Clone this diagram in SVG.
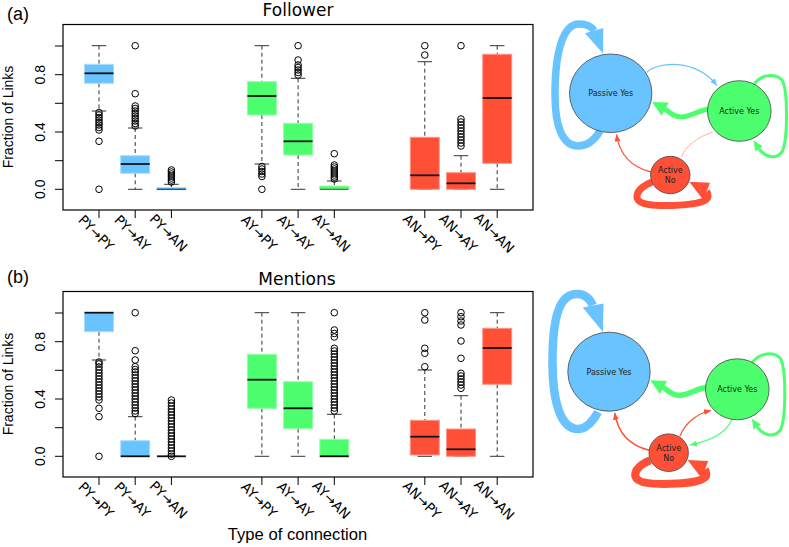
<svg xmlns="http://www.w3.org/2000/svg" width="789" height="547" viewBox="0 0 789 547">
<style>
.bb{fill:#69C3FF;stroke:#A8DCFF;stroke-width:1}
.bg{fill:#4DFF6E;stroke:#94FFA6;stroke-width:1}
.br{fill:#FF5037;stroke:#FF9585;stroke-width:1}
.med{stroke:#111;stroke-width:1.8}
.wh{stroke:#333;stroke-width:1;stroke-dasharray:4 3}
.cap{stroke:#333;stroke-width:1}
.o{fill:none;stroke:#000;stroke-width:1}
.ax{stroke:#000;stroke-width:1}
.frame{fill:none;stroke:#000;stroke-width:1.2}
.t{font-family:"Liberation Sans",Arial,sans-serif;fill:#000}
.dv{font-family:"DejaVu Sans",sans-serif;fill:#000}
.xl{font-family:"DejaVu Sans",sans-serif;font-size:13.5px;text-anchor:middle}
.yl{font-family:"Liberation Sans",Arial,sans-serif;font-size:14px;text-anchor:middle}
.nl{font-family:"DejaVu Sans",sans-serif;font-size:8px;text-anchor:middle;fill:#222}
.nPY{fill:#69C3FF;stroke:#444;stroke-width:0.8}
.nAY{fill:#4DFF6E;stroke:#444;stroke-width:0.8}
.nAN{fill:#FF5037;stroke:#444;stroke-width:0.8}
.eB{fill:none;stroke:#69C3FF}
.eG{fill:none;stroke:#4DFF6E}
.eR{fill:none;stroke:#FF5037}
.hB{fill:#69C3FF}
.hG{fill:#4DFF6E}
.hR{fill:#FF5037}
</style>
<defs>
<marker id="aB" markerUnits="userSpaceOnUse" markerWidth="7" markerHeight="6" refX="7" refY="3" orient="auto"><path d="M0,0 L7,3 L0,6 z" fill="#69C3FF"/></marker>
<marker id="aG" markerUnits="userSpaceOnUse" markerWidth="7" markerHeight="6" refX="7" refY="3" orient="auto"><path d="M0,0 L7,3 L0,6 z" fill="#4DFF6E"/></marker>
<marker id="aR" markerUnits="userSpaceOnUse" markerWidth="7" markerHeight="6" refX="7" refY="3" orient="auto"><path d="M0,0 L7,3 L0,6 z" fill="#FF5037"/></marker>
</defs>
<rect width="789" height="547" fill="#fff"/>

<!-- ===== Plot (a) Follower ===== -->
<g id="plot-a">
<text class="t" x="7" y="20" font-size="18">(a)</text>
<text class="dv" x="298" y="15.7" font-size="17" text-anchor="middle">Follower</text>
<text class="t" font-size="14" text-anchor="middle" transform="translate(13,117) rotate(-90)">Fraction of Links</text>
<g class="ax">
<line x1="55" y1="189.3" x2="63" y2="189.3"/><line x1="55" y1="160.7" x2="63" y2="160.7"/><line x1="55" y1="132" x2="63" y2="132"/><line x1="55" y1="103.3" x2="63" y2="103.3"/><line x1="55" y1="74.7" x2="63" y2="74.7"/><line x1="55" y1="46" x2="63" y2="46"/>
<line x1="99" y1="210" x2="99" y2="218"/><line x1="135.2" y1="210" x2="135.2" y2="218"/><line x1="171.4" y1="210" x2="171.4" y2="218"/><line x1="261.9" y1="210" x2="261.9" y2="218"/><line x1="298.1" y1="210" x2="298.1" y2="218"/><line x1="334.3" y1="210" x2="334.3" y2="218"/><line x1="424.8" y1="210" x2="424.8" y2="218"/><line x1="461" y1="210" x2="461" y2="218"/><line x1="497.2" y1="210" x2="497.2" y2="218"/>
</g>
<text class="yl" transform="translate(44.5,189.3) rotate(-90)">0.0</text>
<text class="yl" transform="translate(44.5,132) rotate(-90)">0.4</text>
<text class="yl" transform="translate(44.5,74.7) rotate(-90)">0.8</text>
<g class="xl">
<text transform="translate(96,233) rotate(45)" y="4.5">PY→PY</text>
<text transform="translate(132.2,233) rotate(45)" y="4.5">PY→AY</text>
<text transform="translate(168.4,233) rotate(45)" y="4.5">PY→AN</text>
<text transform="translate(258.9,233) rotate(45)" y="4.5">AY→PY</text>
<text transform="translate(295.1,233) rotate(45)" y="4.5">AY→AY</text>
<text transform="translate(331.3,233) rotate(45)" y="4.5">AY→AN</text>
<text transform="translate(421.8,233) rotate(45)" y="4.5">AN→PY</text>
<text transform="translate(458,233) rotate(45)" y="4.5">AN→AY</text>
<text transform="translate(494.2,233) rotate(45)" y="4.5">AN→AN</text>
</g>
<!-- PY->PY -->
<g>
<line class="wh" x1="99" y1="45.7" x2="99" y2="64.3"/><line class="wh" x1="99" y1="83.3" x2="99" y2="111"/>
<line class="cap" x1="91.75" y1="45.7" x2="106.25" y2="45.7"/><line class="cap" x1="91.75" y1="111" x2="106.25" y2="111"/>
<rect class="bb" x="84.5" y="64.3" width="29" height="19"/><line class="med" x1="84.5" y1="73.3" x2="113.5" y2="73.3"/>
<g class="o"><circle cx="99" cy="189.3" r="3.3"/><circle cx="99" cy="141.3" r="3.3"/><circle cx="99" cy="130" r="3.3"/><circle cx="99" cy="127.5" r="3.3"/><circle cx="99" cy="125" r="3.3"/><circle cx="99" cy="122.5" r="3.3"/><circle cx="99" cy="120" r="3.3"/><circle cx="99" cy="117.5" r="3.3"/><circle cx="99" cy="115" r="3.3"/><circle cx="99" cy="112.5" r="3.3"/></g>
</g>
<!-- PY->AY -->
<g>
<line class="wh" x1="135.2" y1="128" x2="135.2" y2="155.7"/><line class="wh" x1="135.2" y1="173.3" x2="135.2" y2="189.3"/>
<line class="cap" x1="127.95" y1="128" x2="142.45" y2="128"/><line class="cap" x1="127.95" y1="189.3" x2="142.45" y2="189.3"/>
<rect class="bb" x="120.7" y="155.7" width="29" height="17.6"/><line class="med" x1="120.7" y1="164" x2="149.7" y2="164"/>
<g class="o"><circle cx="135.2" cy="45.7" r="3.3"/><circle cx="135.2" cy="93.7" r="3.3"/><circle cx="135.2" cy="106" r="3.3"/><circle cx="135.2" cy="108.5" r="3.3"/><circle cx="135.2" cy="111" r="3.3"/><circle cx="135.2" cy="113.5" r="3.3"/><circle cx="135.2" cy="116" r="3.3"/><circle cx="135.2" cy="118.5" r="3.3"/><circle cx="135.2" cy="121" r="3.3"/><circle cx="135.2" cy="123.5" r="3.3"/><circle cx="135.2" cy="126" r="3.3"/></g>
</g>
<!-- PY->AN -->
<g>
<line class="wh" x1="171.4" y1="184.3" x2="171.4" y2="187.7"/>
<line class="cap" x1="164.15" y1="184.3" x2="178.65" y2="184.3"/><line class="cap" x1="164.15" y1="189.3" x2="178.65" y2="189.3"/>
<rect class="bb" x="156.9" y="187.7" width="29" height="1.6"/><line x1="156.9" y1="189.3" x2="185.9" y2="189.3" stroke="#1a5a9a" stroke-width="1.5"/>
<g class="o"><circle cx="171.4" cy="170" r="3.3"/><circle cx="171.4" cy="172" r="3.3"/><circle cx="171.4" cy="174" r="3.3"/><circle cx="171.4" cy="176" r="3.3"/><circle cx="171.4" cy="178" r="3.3"/><circle cx="171.4" cy="180" r="3.3"/><circle cx="171.4" cy="182" r="3.3"/></g>
</g>
<!-- AY->PY -->
<g>
<line class="wh" x1="261.9" y1="45.7" x2="261.9" y2="81.7"/><line class="wh" x1="261.9" y1="115" x2="261.9" y2="164"/>
<line class="cap" x1="254.65" y1="45.7" x2="269.15" y2="45.7"/><line class="cap" x1="254.65" y1="164" x2="269.15" y2="164"/>
<rect class="bg" x="247.4" y="81.7" width="29" height="33.3"/><line class="med" x1="247.4" y1="96" x2="276.4" y2="96"/>
<g class="o"><circle cx="261.9" cy="189.3" r="3.3"/><circle cx="261.9" cy="176.5" r="3.3"/><circle cx="261.9" cy="174" r="3.3"/><circle cx="261.9" cy="171.5" r="3.3"/><circle cx="261.9" cy="169" r="3.3"/><circle cx="261.9" cy="166.5" r="3.3"/></g>
</g>
<!-- AY->AY -->
<g>
<line class="wh" x1="298.1" y1="78.3" x2="298.1" y2="123.3"/><line class="wh" x1="298.1" y1="155" x2="298.1" y2="189.3"/>
<line class="cap" x1="290.85" y1="78.3" x2="305.35" y2="78.3"/><line class="cap" x1="290.85" y1="189.3" x2="305.35" y2="189.3"/>
<rect class="bg" x="283.6" y="123.3" width="29" height="31.7"/><line class="med" x1="283.6" y1="141.3" x2="312.6" y2="141.3"/>
<g class="o"><circle cx="298.1" cy="45.7" r="3.3"/><circle cx="298.1" cy="60" r="3.3"/><circle cx="298.1" cy="65" r="3.3"/><circle cx="298.1" cy="67.5" r="3.3"/><circle cx="298.1" cy="70" r="3.3"/><circle cx="298.1" cy="72.5" r="3.3"/><circle cx="298.1" cy="75" r="3.3"/></g>
</g>
<!-- AY->AN -->
<g>
<line class="wh" x1="334.3" y1="181" x2="334.3" y2="186"/>
<line class="cap" x1="327.05" y1="181" x2="341.55" y2="181"/><line class="cap" x1="327.05" y1="189.3" x2="341.55" y2="189.3"/>
<rect class="bg" x="319.8" y="186" width="29" height="3.3"/><line x1="319.8" y1="189.3" x2="348.8" y2="189.3" stroke="#1f8a35" stroke-width="1.2"/>
<g class="o"><circle cx="334.3" cy="153.7" r="3.3"/><circle cx="334.3" cy="165" r="3.3"/><circle cx="334.3" cy="167" r="3.3"/><circle cx="334.3" cy="169" r="3.3"/><circle cx="334.3" cy="171" r="3.3"/><circle cx="334.3" cy="173" r="3.3"/><circle cx="334.3" cy="175" r="3.3"/><circle cx="334.3" cy="177" r="3.3"/><circle cx="334.3" cy="179" r="3.3"/></g>
</g>
<!-- AN->PY -->
<g>
<line class="wh" x1="424.8" y1="61.7" x2="424.8" y2="137.3"/>
<line class="cap" x1="417.55" y1="61.7" x2="432.05" y2="61.7"/><line class="cap" x1="417.55" y1="189.3" x2="432.05" y2="189.3"/>
<rect class="br" x="410.3" y="137.3" width="29" height="52"/><line class="med" x1="410.3" y1="175.3" x2="439.3" y2="175.3"/>
<g class="o"><circle cx="424.8" cy="45.7" r="3.3"/><circle cx="424.8" cy="55" r="3.3"/></g>
</g>
<!-- AN->AY -->
<g>
<line class="wh" x1="461" y1="155.7" x2="461" y2="172.7"/>
<line class="cap" x1="453.75" y1="155.7" x2="468.25" y2="155.7"/><line class="cap" x1="453.75" y1="189.3" x2="468.25" y2="189.3"/>
<rect class="br" x="446.5" y="172.7" width="29" height="16.6"/><line class="med" x1="446.5" y1="183.3" x2="475.5" y2="183.3"/>
<g class="o"><circle cx="461" cy="45.7" r="3.3"/><circle cx="461" cy="119" r="3.3"/><circle cx="461" cy="122" r="3.3"/><circle cx="461" cy="125" r="3.3"/><circle cx="461" cy="128" r="3.3"/><circle cx="461" cy="131" r="3.3"/><circle cx="461" cy="134" r="3.3"/><circle cx="461" cy="137" r="3.3"/><circle cx="461" cy="140" r="3.3"/><circle cx="461" cy="143" r="3.3"/><circle cx="461" cy="146" r="3.3"/></g>
</g>
<!-- AN->AN -->
<g>
<line class="wh" x1="497.2" y1="45.7" x2="497.2" y2="54.3"/><line class="wh" x1="497.2" y1="163.3" x2="497.2" y2="189.3"/>
<line class="cap" x1="489.95" y1="45.7" x2="504.45" y2="45.7"/><line class="cap" x1="489.95" y1="189.3" x2="504.45" y2="189.3"/>
<rect class="br" x="482.7" y="54.3" width="29" height="109"/><line class="med" x1="482.7" y1="98" x2="511.7" y2="98"/>
</g>
<rect class="frame" x="63" y="24.5" width="470" height="185.5"/>
</g>

<!-- ===== Plot (b) Mentions ===== -->
<g id="plot-b">
<text class="t" x="7" y="282.7" font-size="18">(b)</text>
<text class="dv" x="297" y="285" font-size="17" text-anchor="middle">Mentions</text>
<text class="t" font-size="14" text-anchor="middle" transform="translate(13,384) rotate(-90)">Fraction of Links</text>
<text class="t" x="297.5" y="540" font-size="16.6" text-anchor="middle">Type of connection</text>
<g class="ax">
<line x1="55" y1="456.3" x2="63" y2="456.3"/><line x1="55" y1="427.7" x2="63" y2="427.7"/><line x1="55" y1="399" x2="63" y2="399"/><line x1="55" y1="370.3" x2="63" y2="370.3"/><line x1="55" y1="341.7" x2="63" y2="341.7"/><line x1="55" y1="313" x2="63" y2="313"/>
<line x1="99" y1="477" x2="99" y2="485"/><line x1="135.2" y1="477" x2="135.2" y2="485"/><line x1="171.4" y1="477" x2="171.4" y2="485"/><line x1="261.9" y1="477" x2="261.9" y2="485"/><line x1="298.1" y1="477" x2="298.1" y2="485"/><line x1="334.3" y1="477" x2="334.3" y2="485"/><line x1="424.8" y1="477" x2="424.8" y2="485"/><line x1="461" y1="477" x2="461" y2="485"/><line x1="497.2" y1="477" x2="497.2" y2="485"/>
</g>
<text class="yl" transform="translate(44.5,456.3) rotate(-90)">0.0</text>
<text class="yl" transform="translate(44.5,399) rotate(-90)">0.4</text>
<text class="yl" transform="translate(44.5,341.7) rotate(-90)">0.8</text>
<g class="xl">
<text transform="translate(96,500) rotate(45)" y="4.5">PY→PY</text>
<text transform="translate(132.2,500) rotate(45)" y="4.5">PY→AY</text>
<text transform="translate(168.4,500) rotate(45)" y="4.5">PY→AN</text>
<text transform="translate(258.9,500) rotate(45)" y="4.5">AY→PY</text>
<text transform="translate(295.1,500) rotate(45)" y="4.5">AY→AY</text>
<text transform="translate(331.3,500) rotate(45)" y="4.5">AY→AN</text>
<text transform="translate(421.8,500) rotate(45)" y="4.5">AN→PY</text>
<text transform="translate(458,500) rotate(45)" y="4.5">AN→AY</text>
<text transform="translate(494.2,500) rotate(45)" y="4.5">AN→AN</text>
</g>
<!-- PY->PY -->
<g>
<line class="wh" x1="99" y1="331.7" x2="99" y2="360"/>
<line class="cap" x1="91.75" y1="360" x2="106.25" y2="360"/>
<rect class="bb" x="84.5" y="312.7" width="29" height="19"/><line class="med" x1="84.5" y1="312.7" x2="113.5" y2="312.7"/>
<g class="o"><circle cx="99" cy="456.3" r="3.3"/><circle cx="99" cy="416.7" r="3.3"/><circle cx="99" cy="408.3" r="3.3"/><circle cx="99" cy="400" r="3.3"/><circle cx="99" cy="397" r="3.3"/><circle cx="99" cy="394" r="3.3"/><circle cx="99" cy="391" r="3.3"/><circle cx="99" cy="388" r="3.3"/><circle cx="99" cy="385" r="3.3"/><circle cx="99" cy="382" r="3.3"/><circle cx="99" cy="379" r="3.3"/><circle cx="99" cy="376" r="3.3"/><circle cx="99" cy="373" r="3.3"/><circle cx="99" cy="370" r="3.3"/><circle cx="99" cy="367" r="3.3"/><circle cx="99" cy="364" r="3.3"/><circle cx="99" cy="362" r="3.3"/></g>
</g>
<!-- PY->AY -->
<g>
<line class="wh" x1="135.2" y1="416.7" x2="135.2" y2="440.7"/>
<line class="cap" x1="127.95" y1="416.7" x2="142.45" y2="416.7"/><line class="cap" x1="127.95" y1="456.3" x2="142.45" y2="456.3"/>
<rect class="bb" x="120.7" y="440.7" width="29" height="15.6"/><line class="med" x1="120.7" y1="456.3" x2="149.7" y2="456.3"/>
<g class="o"><circle cx="135.2" cy="312.7" r="3.3"/><circle cx="135.2" cy="350.7" r="3.3"/><circle cx="135.2" cy="360" r="3.3"/><circle cx="135.2" cy="366.7" r="3.3"/><circle cx="135.2" cy="369.5" r="3.3"/><circle cx="135.2" cy="372" r="3.3"/><circle cx="135.2" cy="375" r="3.3"/><circle cx="135.2" cy="378" r="3.3"/><circle cx="135.2" cy="381" r="3.3"/><circle cx="135.2" cy="384" r="3.3"/><circle cx="135.2" cy="387" r="3.3"/><circle cx="135.2" cy="390" r="3.3"/><circle cx="135.2" cy="393" r="3.3"/><circle cx="135.2" cy="396" r="3.3"/><circle cx="135.2" cy="399" r="3.3"/><circle cx="135.2" cy="402" r="3.3"/><circle cx="135.2" cy="405" r="3.3"/><circle cx="135.2" cy="408" r="3.3"/><circle cx="135.2" cy="411" r="3.3"/><circle cx="135.2" cy="413.5" r="3.3"/></g>
</g>
<!-- PY->AN -->
<g>
<line class="cap" x1="164.15" y1="456.3" x2="178.65" y2="456.3"/>
<line class="med" x1="156.9" y1="456.3" x2="185.9" y2="456.3"/>
<g class="o"><circle cx="171.4" cy="400" r="3.3"/><circle cx="171.4" cy="403" r="3.3"/><circle cx="171.4" cy="406" r="3.3"/><circle cx="171.4" cy="409" r="3.3"/><circle cx="171.4" cy="412" r="3.3"/><circle cx="171.4" cy="415" r="3.3"/><circle cx="171.4" cy="418" r="3.3"/><circle cx="171.4" cy="421" r="3.3"/><circle cx="171.4" cy="424" r="3.3"/><circle cx="171.4" cy="427" r="3.3"/><circle cx="171.4" cy="430" r="3.3"/><circle cx="171.4" cy="433" r="3.3"/><circle cx="171.4" cy="436" r="3.3"/><circle cx="171.4" cy="439" r="3.3"/><circle cx="171.4" cy="442" r="3.3"/><circle cx="171.4" cy="445" r="3.3"/><circle cx="171.4" cy="448" r="3.3"/><circle cx="171.4" cy="451" r="3.3"/><circle cx="171.4" cy="454" r="3.3"/><circle cx="171.4" cy="456.3" r="3.3"/></g>
</g>
<!-- AY->PY -->
<g>
<line class="wh" x1="261.9" y1="312.7" x2="261.9" y2="354.3"/><line class="wh" x1="261.9" y1="408.3" x2="261.9" y2="456.3"/>
<line class="cap" x1="254.65" y1="312.7" x2="269.15" y2="312.7"/><line class="cap" x1="254.65" y1="456.3" x2="269.15" y2="456.3"/>
<rect class="bg" x="247.4" y="354.3" width="29" height="54"/><line class="med" x1="247.4" y1="379.7" x2="276.4" y2="379.7"/>
</g>
<!-- AY->AY -->
<g>
<line class="wh" x1="298.1" y1="312.7" x2="298.1" y2="381.7"/><line class="wh" x1="298.1" y1="428.7" x2="298.1" y2="456.3"/>
<line class="cap" x1="290.85" y1="312.7" x2="305.35" y2="312.7"/><line class="cap" x1="290.85" y1="456.3" x2="305.35" y2="456.3"/>
<rect class="bg" x="283.6" y="381.7" width="29" height="47"/><line class="med" x1="283.6" y1="408.3" x2="312.6" y2="408.3"/>
</g>
<!-- AY->AN -->
<g>
<line class="wh" x1="334.3" y1="414.3" x2="334.3" y2="439.3"/>
<line class="cap" x1="327.05" y1="414.3" x2="341.55" y2="414.3"/><line class="cap" x1="327.05" y1="456.3" x2="341.55" y2="456.3"/>
<rect class="bg" x="319.8" y="439.3" width="29" height="17"/><line class="med" x1="319.8" y1="456.3" x2="348.8" y2="456.3"/>
<g class="o"><circle cx="334.3" cy="312.7" r="3.3"/><circle cx="334.3" cy="330" r="3.3"/><circle cx="334.3" cy="333.5" r="3.3"/><circle cx="334.3" cy="337" r="3.3"/><circle cx="334.3" cy="348.3" r="3.3"/><circle cx="334.3" cy="351" r="3.3"/><circle cx="334.3" cy="354" r="3.3"/><circle cx="334.3" cy="357" r="3.3"/><circle cx="334.3" cy="360" r="3.3"/><circle cx="334.3" cy="363" r="3.3"/><circle cx="334.3" cy="366" r="3.3"/><circle cx="334.3" cy="369" r="3.3"/><circle cx="334.3" cy="372" r="3.3"/><circle cx="334.3" cy="375" r="3.3"/><circle cx="334.3" cy="378" r="3.3"/><circle cx="334.3" cy="381" r="3.3"/><circle cx="334.3" cy="384" r="3.3"/><circle cx="334.3" cy="387" r="3.3"/><circle cx="334.3" cy="390" r="3.3"/><circle cx="334.3" cy="393" r="3.3"/><circle cx="334.3" cy="396" r="3.3"/><circle cx="334.3" cy="399" r="3.3"/><circle cx="334.3" cy="402" r="3.3"/><circle cx="334.3" cy="405" r="3.3"/><circle cx="334.3" cy="408" r="3.3"/><circle cx="334.3" cy="411" r="3.3"/></g>
</g>
<!-- AN->PY -->
<g>
<line class="wh" x1="424.8" y1="370" x2="424.8" y2="420.3"/>
<line class="cap" x1="417.55" y1="370" x2="432.05" y2="370"/><line class="cap" x1="417.55" y1="456.3" x2="432.05" y2="456.3"/>
<rect class="br" x="410.3" y="420.3" width="29" height="34.7"/><line class="med" x1="410.3" y1="436.7" x2="439.3" y2="436.7"/>
<g class="o"><circle cx="424.8" cy="312.7" r="3.3"/><circle cx="424.8" cy="320" r="3.3"/><circle cx="424.8" cy="348.3" r="3.3"/><circle cx="424.8" cy="353.3" r="3.3"/><circle cx="424.8" cy="366.7" r="3.3"/></g>
</g>
<!-- AN->AY -->
<g>
<line class="wh" x1="461" y1="395.7" x2="461" y2="429"/>
<line class="cap" x1="453.75" y1="395.7" x2="468.25" y2="395.7"/><line class="cap" x1="453.75" y1="456.3" x2="468.25" y2="456.3"/>
<rect class="br" x="446.5" y="429" width="29" height="27.3"/><line class="med" x1="446.5" y1="449.3" x2="475.5" y2="449.3"/>
<g class="o"><circle cx="461" cy="312.7" r="3.3"/><circle cx="461" cy="316.7" r="3.3"/><circle cx="461" cy="321" r="3.3"/><circle cx="461" cy="325" r="3.3"/><circle cx="461" cy="341" r="3.3"/><circle cx="461" cy="358.3" r="3.3"/><circle cx="461" cy="373.3" r="3.3"/><circle cx="461" cy="376" r="3.3"/><circle cx="461" cy="379" r="3.3"/><circle cx="461" cy="382" r="3.3"/><circle cx="461" cy="385" r="3.3"/><circle cx="461" cy="388.3" r="3.3"/></g>
</g>
<!-- AN->AN -->
<g>
<line class="wh" x1="497.2" y1="312.7" x2="497.2" y2="328.3"/><line class="wh" x1="497.2" y1="384.3" x2="497.2" y2="456.3"/>
<line class="cap" x1="489.95" y1="312.7" x2="504.45" y2="312.7"/><line class="cap" x1="489.95" y1="456.3" x2="504.45" y2="456.3"/>
<rect class="br" x="482.7" y="328.3" width="29" height="56"/><line class="med" x1="482.7" y1="348" x2="511.7" y2="348"/>
</g>
<rect class="frame" x="63" y="291.5" width="470" height="185.5"/>
</g>

<!-- ===== Network (a) ===== -->
<g id="connectors-a">
<path class="eB" stroke-width="7.5" d="M600,131 C594,141 586,146 578,146 C562,146 555,125 555,95 C555,55 562,24 579,24 C587,24 591,26 594.2,30.7"/>
<polygon class="hB" points="585,33.3 603.3,28 603,53.5"/>
<path class="eB" stroke-width="1.2" d="M647,72 C658,62 695,58 717,85.5" marker-end="url(#aB)"/>
<path class="eG" stroke-width="5" d="M708,109 C697,111 690,117 681,117 C674,117 669,112 665,109"/>
<polygon class="hG" points="652,102 668.8,102.6 661.6,115.8"/>
<path class="eG" stroke-width="3" d="M754,84 C762,74 775,73 782,80 C788,90 788,140 782,152 C775,160 765,157 759,148.8"/>
<polygon class="hG" points="753.5,140.5 762.7,146.3 755.3,151.3"/>
<path class="eR" stroke-width="1.3" d="M651,172 C635,168 620,158 616.5,134.5" marker-end="url(#aR)"/>
<path fill="none" stroke="#FF9A8A" stroke-width="0.8" d="M681.7,156.7 C685,147 697,137 713,132"/>
<path class="eR" stroke-width="7" d="M652,182 C642,186 636,192 637,198 C639,205 655,206 672,205.5 C690,205 708,203 708,196 C708,194 708,193 706.7,191.3"/>
<polygon class="hR" points="689.3,181.7 710,182.7 703.3,200"/>
</g>
<g id="node-a-passive-yes"><ellipse class="nPY" cx="610.7" cy="93.3" rx="41.2" ry="39.3"/><text class="nl" x="610.7" y="96.3">Passive Yes</text></g>
<g id="node-a-active-yes"><ellipse class="nAY" cx="739.3" cy="111" rx="31.8" ry="30.3"/><text class="nl" x="739.3" y="114">Active Yes</text></g>
<g id="node-a-active-no"><ellipse class="nAN" cx="670.3" cy="175" rx="19.7" ry="18.7"/><text class="nl" x="670.3" y="173">Active</text><text class="nl" x="670.3" y="183">No</text></g>

<!-- ===== Network (b) ===== -->
<g id="connectors-b">
<path class="eB" stroke-width="8.5" d="M598,412 C592,423 585,429 578,429 C560,429 552.5,400 552.5,362 C552.5,315 560,294 577,294 C586,294 590,299 592.8,305.4"/>
<polygon class="hB" points="582.7,307.5 603.5,303.5 603,332"/>
<path class="eG" stroke-width="5.5" d="M706.3,387.3 C695.3,389.3 688.3,395.3 679.3,395.3 C672.3,395.3 667.3,390.3 663.3,387.3"/>
<polygon class="hG" points="650.3,380.3 667.1,380.9 659.9,394.1"/>
<path class="eG" stroke-width="3" d="M752.3,362.3 C760.3,352.3 773.3,351.3 780.3,358.3 C786.3,368.3 786.3,418.3 780.3,430.3 C773.3,438.3 763.3,435.3 757.3,427.1"/>
<polygon class="hG" points="751.8,418.8 761,424.6 753.6,429.6"/>
<path class="eR" stroke-width="1.5" d="M649.3,450.3 C633.3,446.3 618.3,436.3 614.8,412.8" marker-end="url(#aR)"/>
<path class="eR" stroke-width="1.2" d="M680,436 C684,425 695,414 711,410.5" marker-end="url(#aR)"/>
<path class="eG" stroke-width="1.2" d="M731.7,420 C725,435 705,442 690,445" marker-end="url(#aG)"/>
<path class="eR" stroke-width="8" d="M650.3,460.3 C640.3,464.3 634.3,470.3 635.3,476.3 C637.3,483.3 653.3,484.3 670.3,483.8 C688.3,483.3 706.3,481.3 706.3,474.3 C706.3,472.3 706.3,471.3 705,469.6"/>
<polygon class="hR" points="687.6,460 708.3,461 701.6,478.3"/>
</g>
<g id="node-b-passive-yes"><ellipse class="nPY" cx="609" cy="371.7" rx="41.2" ry="39.5"/><text class="nl" x="609" y="374.7">Passive Yes</text></g>
<g id="node-b-active-yes"><ellipse class="nAY" cx="737.3" cy="389.3" rx="31.8" ry="30.5"/><text class="nl" x="737.3" y="392.3">Active Yes</text></g>
<g id="node-b-active-no"><ellipse class="nAN" cx="668.7" cy="452.7" rx="19.7" ry="18.8"/><text class="nl" x="668.7" y="450.7">Active</text><text class="nl" x="668.7" y="460.7">No</text></g>
</svg>
